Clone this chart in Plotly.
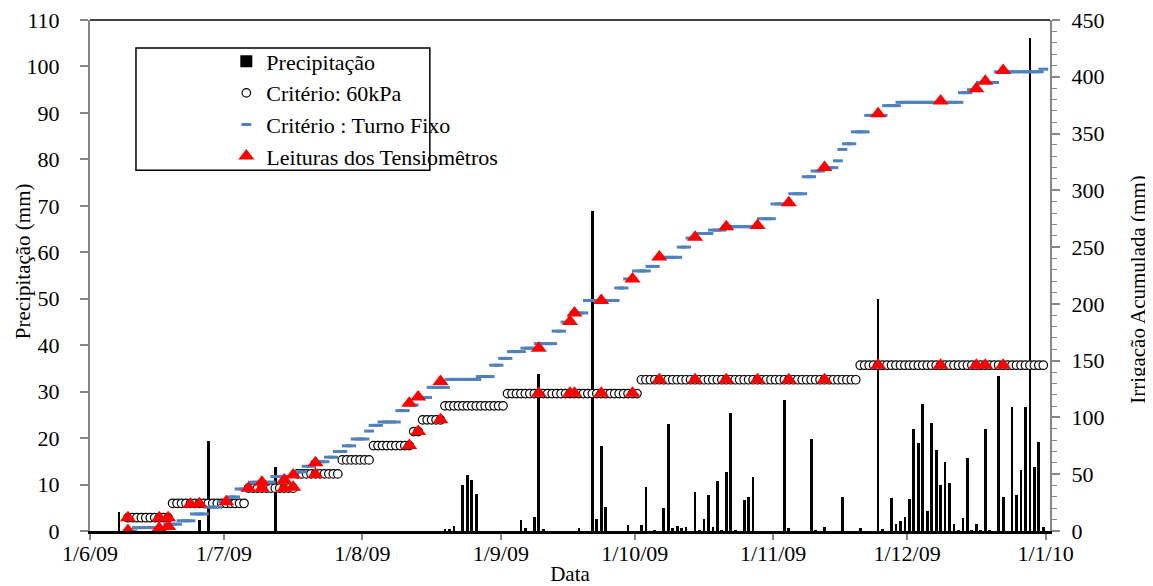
import plotly.graph_objects as go
import pandas as pd

# ---------------- data ----------------
precip_dates = [
    "2009-06-07", "2009-06-25", "2009-06-27", "2009-07-12",
    "2009-08-19", "2009-08-20", "2009-08-21", "2009-08-23", "2009-08-24", "2009-08-25", "2009-08-26",
    "2009-09-05", "2009-09-06", "2009-09-08", "2009-09-09", "2009-09-10", "2009-09-18",
    "2009-09-21", "2009-09-22", "2009-09-23", "2009-09-24", "2009-09-29",
    "2009-10-02", "2009-10-03", "2009-10-05", "2009-10-07", "2009-10-08", "2009-10-09",
    "2009-10-10", "2009-10-11", "2009-10-12", "2009-10-14", "2009-10-15", "2009-10-16",
    "2009-10-17", "2009-10-18", "2009-10-19", "2009-10-20", "2009-10-21", "2009-10-22",
    "2009-10-23", "2009-10-25", "2009-10-26", "2009-10-27",
    "2009-11-03", "2009-11-04", "2009-11-09", "2009-11-10", "2009-11-12", "2009-11-16",
    "2009-11-20", "2009-11-24", "2009-11-25", "2009-11-27", "2009-11-28", "2009-11-29",
    "2009-11-30",
    "2009-12-01", "2009-12-02", "2009-12-03", "2009-12-04", "2009-12-05", "2009-12-06",
    "2009-12-07", "2009-12-08", "2009-12-09", "2009-12-10", "2009-12-11", "2009-12-12",
    "2009-12-13", "2009-12-14", "2009-12-15", "2009-12-16", "2009-12-17", "2009-12-18",
    "2009-12-19", "2009-12-21", "2009-12-22", "2009-12-24", "2009-12-25", "2009-12-26",
    "2009-12-27", "2009-12-28", "2009-12-29", "2009-12-30", "2009-12-31",
]
precip_mm = [
    4.0, 2.4, 19.3, 13.7,
    0.3, 0.5, 1.0, 10.0, 12.1, 10.9, 7.9,
    2.4, 0.6, 3.1, 33.8, 0.4, 0.6,
    68.9, 2.6, 18.4, 5.2, 1.3,
    1.3, 9.5, 0.2, 4.9, 23.1, 0.6,
    1.1, 0.6, 0.9, 8.3, 0.2, 2.6,
    7.7, 0.9, 10.7, 0.2, 12.7, 25.4,
    0.2, 6.6, 7.3, 11.6,
    28.2, 0.6, 19.9, 0.2, 0.9, 7.4,
    0.6, 49.9, 0.5, 7.0, 1.6, 2.2,
    3.1,
    6.9, 21.9, 19.0, 27.4, 4.4, 23.3,
    17.4, 9.9, 14.9, 10.3, 1.5, 0.2,
    2.9, 15.7, 0.2, 1.5, 0.2, 21.9,
    0.2, 33.3, 7.4, 26.7, 7.7, 13.1,
    26.7, 106.1, 13.8, 19.2, 0.8,
]

# Critério 60 kPa: cumulative irrigation (mm), value holds from each date on
kpa60_dates = ["2009-06-09", "2009-06-19", "2009-07-06", "2009-07-17", "2009-07-27",
               "2009-08-03", "2009-08-12", "2009-08-14", "2009-08-19", "2009-09-02",
               "2009-10-02", "2009-11-20"]
kpa60_mm = [11.7, 24.4, 37.7, 50.3, 62.6, 75.2, 87.6, 97.9, 110.2, 121.0, 133.2, 146.0]

# Critério Turno Fixo: cumulative irrigation (mm), value holds from each date on
tf_dates = ["2009-06-09", "2009-06-11", "2009-06-18", "2009-06-21", "2009-06-24",
            "2009-06-27", "2009-06-30", "2009-07-02", "2009-07-04", "2009-07-07",
            "2009-07-12", "2009-07-17", "2009-07-19", "2009-07-21", "2009-07-24",
            "2009-07-26", "2009-07-28", "2009-07-30", "2009-08-02", "2009-08-03",
            "2009-08-05", "2009-08-09", "2009-08-11", "2009-08-13", "2009-08-16",
            "2009-08-20", "2009-08-27", "2009-08-30", "2009-09-01", "2009-09-03",
            "2009-09-06", "2009-09-09", "2009-09-13", "2009-09-15", "2009-09-17",
            "2009-09-20", "2009-09-27", "2009-09-29", "2009-10-01", "2009-10-04",
            "2009-10-06", "2009-10-11", "2009-10-13", "2009-10-15", "2009-10-18",
            "2009-10-21", "2009-10-29", "2009-11-01", "2009-11-05", "2009-11-08",
            "2009-11-10", "2009-11-12", "2009-11-15", "2009-11-16", "2009-11-17",
            "2009-11-19", "2009-11-22", "2009-11-26", "2009-11-29", "2009-12-13",
            "2009-12-15", "2009-12-17", "2009-12-21", "2009-12-31"]
tf_mm = [0, 3, 6, 9, 15,
         21, 26, 30, 37, 43,
         48, 52, 57, 61, 65,
         70, 75, 81, 88, 93,
         96, 106, 111, 117.5, 126.5,
         133.5, 136, 146, 152, 158,
         161, 165, 176, 184, 192,
         203, 214, 222, 229, 233,
         241, 250, 258, 262, 265,
         268, 275, 288, 297, 312,
         317, 320, 326, 336, 341,
         351.5, 366, 374.6, 377.5, 386,
         388.6, 395, 404.4, 406.7]

last_day = "2009-12-31"

# Leituras dos tensiômetros
tens_dates = ["2009-06-09", "2009-06-09", "2009-06-16", "2009-06-16", "2009-06-18", "2009-06-18",
              "2009-06-23", "2009-06-25", "2009-07-01", "2009-07-06", "2009-07-09", "2009-07-09",
              "2009-07-14", "2009-07-14", "2009-07-16", "2009-07-16", "2009-07-21", "2009-07-21",
              "2009-08-11", "2009-08-11", "2009-08-13", "2009-08-13", "2009-08-18", "2009-08-18",
              "2009-09-09", "2009-09-09", "2009-09-16", "2009-09-16", "2009-09-17", "2009-09-17",
              "2009-09-23", "2009-09-23", "2009-09-30", "2009-09-30", "2009-10-06", "2009-10-06",
              "2009-10-14", "2009-10-14", "2009-10-21", "2009-10-21", "2009-10-28", "2009-10-28",
              "2009-11-04", "2009-11-04", "2009-11-12", "2009-11-12", "2009-11-24", "2009-11-24",
              "2009-12-08", "2009-12-08", "2009-12-16", "2009-12-16", "2009-12-18", "2009-12-18",
              "2009-12-22", "2009-12-22"]
tens_mm = [11.7, 0.5, 11.7, 2.5, 11.7, 4.0,
           23.5, 24.0, 25.8, 37.7, 37.7, 43.0,
           45.0, 37.7, 49.4, 38.5, 60.2, 50.0,
           112.6, 75.2, 117.9, 87.6, 131.7, 97.9,
           161.0, 121.4, 184.6, 121.4, 192.0, 121.4,
           203.0, 121.4, 222.0, 121.4, 241.4, 133.2,
           258.6, 133.2, 268.0, 133.2, 269.0, 133.2,
           289.0, 133.2, 320.0, 133.2, 367.5, 146.0,
           378.6, 146.0, 389.5, 146.0, 396.0, 146.0,
           405.6, 146.0]

month_ticks = ["2009-06-01", "2009-07-01", "2009-08-01", "2009-09-01",
               "2009-10-01", "2009-11-01", "2009-12-01", "2010-01-01"]
month_labels = ["1/6/09", "1/7/09", "1/8/09", "1/9/09",
                "1/10/09", "1/11/09", "1/12/09", "1/1/10"]

# ---------------- helpers ----------------
HALF_DAY = pd.Timedelta(hours=12)  # Excel date axis: each day centred in its slot


def centre(dates):
    return pd.to_datetime(pd.Series(dates)) + HALF_DAY


def daily_steps(dates, values, last):
    s = pd.Series(values, index=pd.to_datetime(dates))
    idx = pd.date_range(dates[0], last, freq="D")
    s = s.reindex(idx).ffill()
    return idx + HALF_DAY, s.values


kpa_x, kpa_y = daily_steps(kpa60_dates, kpa60_mm, last_day)
tf_x, tf_y = daily_steps(tf_dates, tf_mm, last_day)

FONT = "Liberation Serif, Times New Roman, serif"
GRAY = "#868686"

fig = go.Figure()

fig.add_trace(go.Bar(
    x=centre(precip_dates), y=precip_mm, name="Precipitação",
    marker=dict(color="black", line=dict(width=0)),
    width=0.62 * 86400000, yaxis="y",
))
fig.add_trace(go.Scatter(
    x=kpa_x, y=kpa_y, name="Critério: 60kPa", mode="markers", yaxis="y2",
    marker=dict(symbol="circle", size=8.5, color="white", line=dict(color="black", width=1.2)),
))
fig.add_trace(go.Scatter(
    x=tf_x, y=tf_y, name="Critério : Turno Fixo", mode="markers", yaxis="y2",
    marker=dict(symbol="line-ew", size=7, color="#4F81BD", line=dict(color="#4F81BD", width=3)),
))
fig.add_trace(go.Scatter(
    x=centre(tens_dates), y=tens_mm, name="Leituras dos Tensiomêtros", mode="markers", yaxis="y2",
    marker=dict(symbol="triangle-up", size=14, color="#FF0000", line=dict(width=0)),
))

# the page body adds an 8 px offset; figure is sized so the plot area lands at
# x 90..1050 and y 20..531 of the window
fig.update_layout(
    width=1145, height=578,
    margin=dict(l=82, r=103, t=12, b=55),
    paper_bgcolor="white", plot_bgcolor="white",
    font=dict(family=FONT, size=22, color="black"),
    showlegend=True,
    bargap=0,
    legend=dict(
        x=0.142, y=0.960, xanchor="left", yanchor="top",
        bgcolor="rgba(0,0,0,0)", borderwidth=0,
        font=dict(family=FONT, size=22, color="black"),
        traceorder="normal",
    ),
    xaxis=dict(
        type="date", automargin=False,
        range=["2009-06-01", "2010-01-02"],
        tickmode="array", tickvals=month_ticks, ticktext=month_labels,
        ticks="outside", ticklen=6, tickwidth=1.5, tickcolor=GRAY,
        ticklabelstandoff=-5, ticklabeloverflow="allow",
        showline=True, linecolor="black", linewidth=2.5,
        showgrid=False, zeroline=False,
        title=dict(text="Data", font=dict(family=FONT, size=21), standoff=9),
        tickfont=dict(family=FONT, size=22),
    ),
    yaxis=dict(
        automargin=False,
        range=[0, 110], dtick=10, tick0=0,
        ticks="outside", ticklen=8, tickwidth=1.5, tickcolor=GRAY,
        showline=True, linecolor=GRAY, linewidth=2,
        showgrid=False, zeroline=False,
        ticklabelstandoff=16, ticklabeloverflow="allow",
        tickfont=dict(family=FONT, size=22),
    ),
    yaxis2=dict(
        automargin=False,
        overlaying="y", side="right",
        range=[0, 450], dtick=50, tick0=0,
        ticks="outside", ticklen=8, tickwidth=1.5, tickcolor=GRAY,
        minor=dict(dtick=10, ticks="outside", ticklen=5, tickwidth=1, tickcolor=GRAY),
        showline=True, linecolor=GRAY, linewidth=2,
        showgrid=False, zeroline=False,
        ticklabelstandoff=7, ticklabeloverflow="allow",
        tickfont=dict(family=FONT, size=22),
    ),
    annotations=[
        dict(text="Precipitação (mm)", textangle=-90, showarrow=False,
             xref="paper", yref="paper", x=-0.0698, y=0.528,
             xanchor="center", yanchor="middle",
             font=dict(family=FONT, size=21, color="black")),
        dict(text="Irrigação Acumulada (mm)", textangle=-90, showarrow=False,
             xref="paper", yref="paper", x=1.0917, y=0.472,
             xanchor="center", yanchor="middle",
             font=dict(family=FONT, size=21, color="black")),
    ],
    shapes=[
        # top border of plot area
        dict(type="line", xref="paper", yref="paper", x0=0, x1=1, y0=1, y1=1,
             line=dict(color="black", width=1.5)),
        # legend frame
        dict(type="rect", xref="paper", yref="paper",
             x0=0.0479, x1=0.354, y0=0.706, y1=0.945,
             line=dict(color="black", width=1.5), fillcolor="rgba(0,0,0,0)"),
    ],
)

fig.write_html("out.html")
